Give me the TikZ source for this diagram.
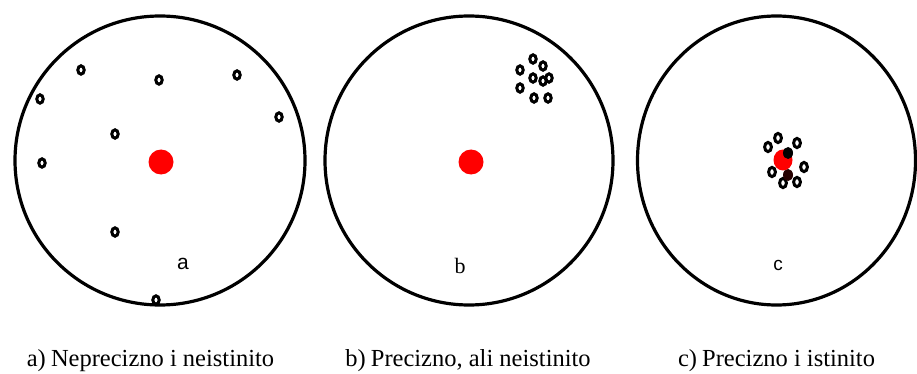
\documentclass[tikz,border=0pt]{standalone}
\usepackage{fontspec}
\setmainfont{Liberation Serif}
\newfontfamily\lsans{Liberation Sans}
\begin{document}
\begin{tikzpicture}[x=1pt,y=-1pt,
  target/.style={draw=black,line width=3.2pt},
  hit/.style={draw=black,line width=3pt},
  bull/.style={fill=red},
  captext/.style={anchor=base,inner sep=0pt,font=\fontsize{24.5}{28}\selectfont},
  lbl/.style={anchor=base,inner sep=0pt}]
\useasboundingbox (0,0) rectangle (917,374);
% targets
\draw[target] (160,160.5) ellipse [x radius=145,y radius=144.5];
\draw[target] (469,160.5) ellipse [x radius=144,y radius=144.5];
\draw[target] (776.5,160.5) ellipse [x radius=139,y radius=144.5];
% bullseyes
\fill[bull] (161,162) circle [radius=12.5];
\fill[bull] (471,162) circle [radius=12.5];
\fill[bull] (783,160) ellipse [x radius=9.5,y radius=10.5];
% hits a
\foreach \p in {(81,70),(159,80),(237,75),(40,99),(279,117),(115,134),(42,163),(115,232),(156,300)}
  \draw[hit] \p ellipse [x radius=3.2,y radius=4.2];
% hits b
\foreach \p in {(533,59),(543,66),(520,70),(533,78),(543,81),(549,78),(520,88),(534,98),(548,98)}
  \draw[hit] \p ellipse [x radius=3.2,y radius=4.2];
% hits c
\foreach \p in {(778,138),(797,143),(768,147),(804,167),(772,172),(783,183),(797,182)}
  \draw[hit] \p ellipse [x radius=3.4,y radius=4.6];
\fill[black] (788,153) ellipse [x radius=5,y radius=6];
\fill[black!85!red] (788,175) ellipse [x radius=5,y radius=6];
% letters
\node[lbl,font=\lsans\fontsize{21}{24}\selectfont] (la) at (183,269) {a};
\node[lbl,font=\fontsize{22}{25}\selectfont] (lb) at (460,273) {b};
\node[lbl,font=\lsans\fontsize{19}{22}\selectfont] (lc) at (778,270) {c};
% captions
\node[captext] (ca) at (150.5,366) {a)\kern-1pt{} Neprecizno i neistinito};
\node[captext] (cb) at (468,366) {b)\kern-1pt{} Precizno, ali neistinito};
\node[captext] (cc) at (776.5,366) {c)\kern-1pt{} Precizno i istinito};
\end{tikzpicture}
\end{document}
